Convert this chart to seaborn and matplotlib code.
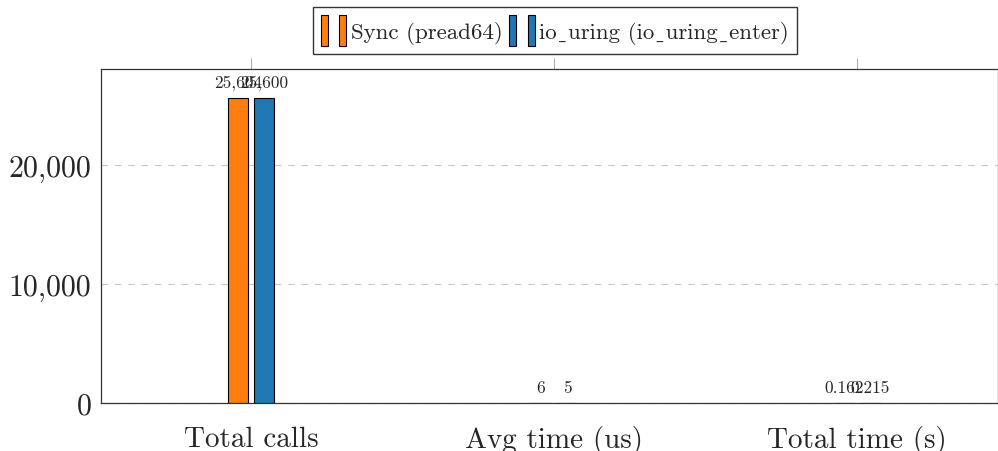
import numpy as np
import pandas as pd
import seaborn as sns
import matplotlib.pyplot as plt
from matplotlib.patches import Rectangle
from matplotlib.legend_handler import HandlerTuple
from matplotlib.ticker import FuncFormatter

# data
metrics = ['Total calls', 'Avg time (us)', 'Total time (s)']
sync_vals = [25604, 6, 0.162]
uring_vals = [25600, 5, 0.215]
sync_labels = ['25,604', '6', '0.162']
uring_labels = ['25,600', '5', '0.215']
series = ['Sync (pread64)', 'io_uring (io_uring_enter)']
colors = ['#ff7f0e', '#1f77b4']

df = pd.DataFrame({
    'metric': metrics * 2,
    'value': sync_vals + uring_vals,
    'series': [series[0]] * 3 + [series[1]] * 3,
})

sns.set_style('white')
plt.rcParams['font.family'] = ['cmr10', 'DejaVu Serif']
plt.rcParams['axes.unicode_minus'] = False
plt.rcParams['axes.formatter.use_mathtext'] = True

fig = plt.figure(figsize=(9.98, 4.52), dpi=100)
ax = fig.add_axes([0.1012, 0.1062, 0.8988, 0.7389])

sns.barplot(data=df, x='metric', y='value', hue='series', order=metrics,
            hue_order=series, palette=colors, width=0.172, gap=0.2,
            edgecolor='black', linewidth=0.8, saturation=1, legend=False, ax=ax)

for cont, labs in zip(ax.containers, [sync_labels, uring_labels]):
    ax.bar_label(cont, labels=labs, padding=6, fontsize=12.5)

ax.set_xlim(-0.495, 2.465)
ax.set_ylim(0, 28067)
ax.set_yticks([0, 10000, 20000])
ax.yaxis.set_major_formatter(FuncFormatter(lambda v, p: f'{v:,.0f}'))
ax.set_xlabel('')
ax.set_ylabel('')
ax.yaxis.grid(True, linestyle=(0, (6, 6)), color='#c8c8c8', linewidth=0.8)
ax.set_axisbelow(True)

ax.tick_params(axis='x', direction='out', length=8, width=0.6, color='#999999',
               top=True, labelsize=21, pad=8)
ax.tick_params(axis='y', direction='in', length=4, width=0.6, color='#777777',
               labelsize=21.5, pad=7)
for s in ax.spines.values():
    s.set_color('#333333')
    s.set_linewidth(0.9)

# cmr10 has no underscore glyph, show a low line from the fallback font
leg_labels = [s.replace('_', '\u02cd') for s in series]
handles = [(Rectangle((0, 0), 1, 1, fc=c, ec='black', lw=0.8),
            Rectangle((0, 0), 1, 1, fc=c, ec='black', lw=0.8)) for c in colors]
fig.legend(handles, leg_labels, loc='upper center', bbox_to_anchor=(0.556, 0.983),
           ncol=2, fontsize=16.5, frameon=True, fancybox=False, edgecolor='black',
           handler_map={tuple: HandlerTuple(ndivide=None, pad=0.5)},
           handlelength=1.1, handleheight=1.7, handletextpad=0.2,
           columnspacing=0.3, borderpad=0.35, borderaxespad=0)

fig.savefig('out.png', dpi=100)
